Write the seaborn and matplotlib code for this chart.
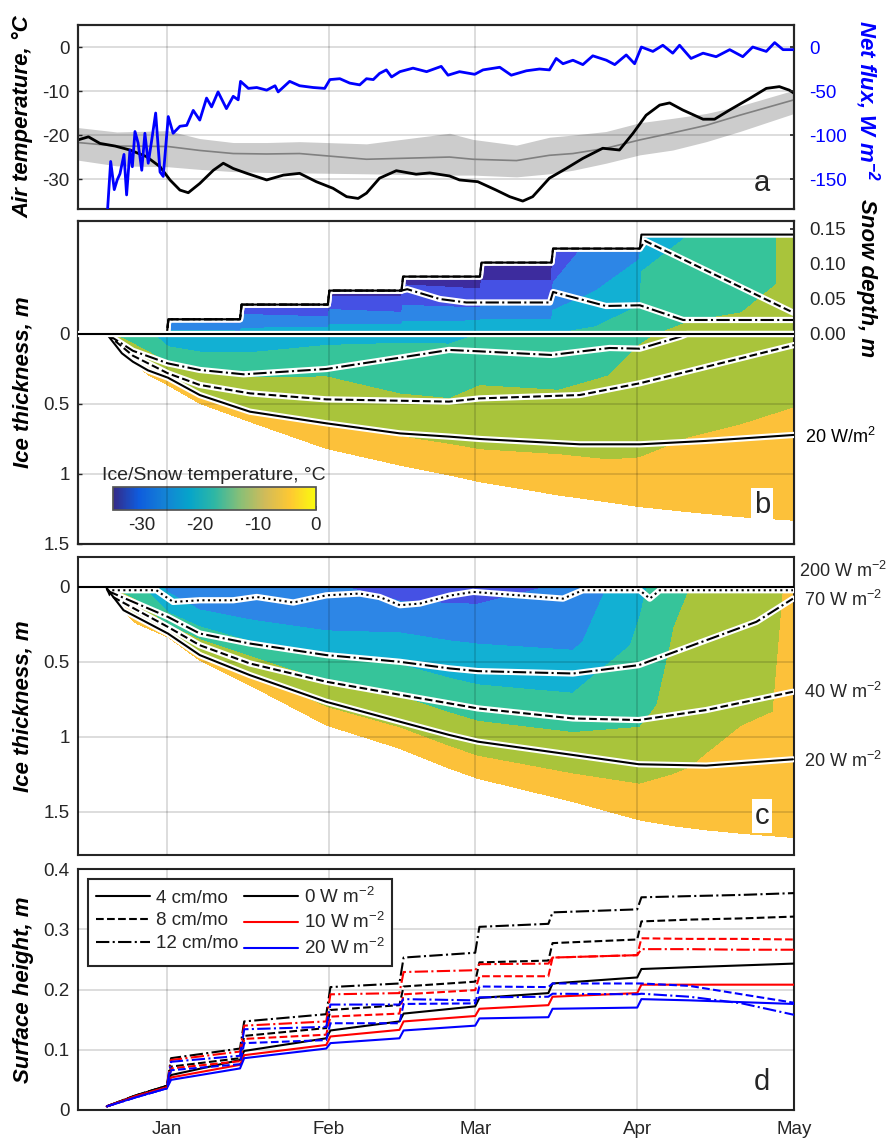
import numpy as np
import matplotlib
matplotlib.use("Agg")
import matplotlib.pyplot as plt
import seaborn as sns
from matplotlib.colors import LinearSegmentedColormap, Normalize
from matplotlib.cm import ScalarMappable
from matplotlib.lines import Line2D

sns.set_theme(style="white")
plt.rcParams["font.family"] = ["Liberation Sans", "DejaVu Sans"]
plt.rcParams["mathtext.fontset"] = "custom"
plt.rcParams["mathtext.rm"] = "Liberation Sans"
plt.rcParams["mathtext.it"] = "Liberation Sans:italic"
plt.rcParams["mathtext.bf"] = "Liberation Sans:italic:bold"
plt.rcParams["axes.unicode_minus"] = False

# ---------------- time axis (days since 1 Jan) ----------------
month_days = [0, 31, 59, 90, 120]
month_labels = ["Jan", "Feb", "Mar", "Apr", "May"]

# ---------------- panel a ----------------
air_days = [-17, -15, -12.8, -9.9, -7.06, -3.9, -1.3, 0.6, 2.5, 4.1, 6.3, 8.9, 10.8, 12.7, 15.3,
            19.1, 22.3, 25.4, 28.6, 31.8, 34.4, 36.6, 38.2, 40.7, 43.9, 47.7, 50.3, 54.1, 56, 59.5,
            63, 65.6, 68.1, 70, 73.2, 76.4, 79.6, 83.4, 86.6, 89.2, 91.7, 94.3, 96.2, 98.7, 102.6,
            104.8, 107.7, 111.5, 114.7, 117.2, 119.1, 120]
air_temp = [-21.1, -20.4, -21.9, -22.5, -23.4, -24.9, -27.2, -30.2, -32.5, -33.1, -31, -28, -26.4,
            -27.6, -28.7, -30.2, -29.1, -28.7, -30.6, -32.1, -34, -34.4, -33.2, -29.8, -28.1, -28.9,
            -28.6, -29.3, -30.2, -30.6, -32.5, -34, -35, -34, -29.8, -27.6, -25.3, -23, -23.4, -19.6,
            -15.5, -13.2, -12.7, -14.3, -16.4, -16.4, -14.3, -11.7, -9.4, -9, -9.8, -10.5]

clim_days = [-17, -9.6, 0.2, 6.3, 12.7, 19.1, 25.4, 38.2, 54.1, 58.6, 66.9, 73.2, 77.7, 84, 90.5,
             96.8, 103.2, 109.6, 120]
clim_mean = [-21.7, -22.5, -22.6, -23.5, -24.2, -24.3, -24.2, -25.5, -25.0, -25.5, -25.8, -24.6,
             -24.2, -23.0, -21.1, -19.5, -17.8, -15.5, -12.0]
clim_hi = [-18.3, -19.3, -19.0, -20.8, -21.7, -21.7, -21.5, -22.0, -19.6, -21.0, -22.3, -20.5,
           -20.0, -19.2, -17.2, -16.2, -15.1, -13.4, -9.8]
clim_lo = [-25.7, -27.0, -27.2, -27.8, -28.3, -28.5, -28.6, -28.8, -29.1, -29.1, -29.5, -28.8,
           -28.0, -26.4, -24.5, -23.4, -21.5, -19.2, -15.1]

flux_days = [-11.4, -10.75, -10.06, -9.5, -8.97, -8.2, -7.7, -7.06, -6.6, -6.1, -5.5, -4.8, -4.2,
             -3.56, -2.9, -2.14, -1.3, -0.69, 0.27, 1.2, 2.5, 3.8, 5.05, 6.3, 7.6, 8.56, 9.8, 11.4,
             12.7, 13.65, 14.1, 15.6, 17.2, 19.1, 20.7, 21.3, 23.5, 25.4, 28, 30.2, 31.2, 33.1, 35,
             36.9, 38.2, 39.5, 40.7, 42, 43, 44.6, 47.1, 49.7, 52.5, 53.8, 56, 58.9, 60.5, 63.7,
             65.9, 68.8, 71.3, 73.2, 74.5, 75.8, 77.7, 79.6, 81.5, 84.1, 85.7, 87.9, 89.5, 90.8, 93,
             94.9, 96.8, 98.1, 100.3, 102.6, 105.1, 107.7, 110.2, 112.1, 114.7, 116.3, 117.9, 119.8]
net_flux = [-190, -130, -162, -151, -144, -122, -168, -117, -136, -96, -109, -140, -98, -132, -106,
            -75, -142, -147, -79, -98, -90, -89, -72, -83, -58, -68, -51, -70, -56, -60, -39, -47,
            -46, -49, -44, -51, -39, -44, -46, -47, -37, -36, -41, -43, -36, -37, -30, -26, -34,
            -28, -24, -28, -22, -32, -28, -31, -26, -23, -32, -27, -25, -26, -13, -19, -15, -20,
            -10, -15, -20, -9, -19, 0, -5, 2, -7, 2, -13, -7, -11, -3, -11, 0, -5, 5, -3, -3]

# ---------------- panel b : ice (0 W m-2 run) ----------------
b_days = [-11, -8.2, -3.6, 0.2, 6.3, 15.9, 30.5, 44.6, 54.1, 59.9, 75, 84.5, 90.5, 100, 109.6, 120]
b_thick = [0.02, 0.15, 0.29, 0.364, 0.495, 0.626, 0.817, 0.936, 1.007, 1.055, 1.15, 1.2, 1.233,
           1.27, 1.305, 1.33]
b_T0 = [-10, -12, -14, -18, -17.5, -18, -17, -16, -16, -15, -15, -13, -10.5, -9, -8.5, -8]
b_T25 = [-8, -10, -11.5, -15, -15.2, -14.5, -12, -12.5, -12.5, -11, -11, -10, -8.5, -7.5, -7, -6]
b_T50 = [-6, -7, -9.5, -10.7, -10.3, -10, -8, -9.5, -9.5, -8.5, -8.5, -7.5, -7, -5.5, -5, -4.3]
b_T75 = [-4, -4.5, -5.8, -6.4, -7.5, -7.5, -5.5, -5.5, -5.5, -5.5, -5, -5, -4.7, -4, -3.5, -3]
b_Tbot = [-1.8] * 16

# snow layer of panel b
snow_days = [0, 0.3, 14, 14.3, 30.8, 31.1, 44.9, 45.2, 59.9, 60.2, 73.6, 73.9, 82, 90.5, 90.8,
             100, 110, 120]
snow_depth = [0.0, 0.021, 0.021, 0.042, 0.042, 0.062, 0.062, 0.082, 0.082, 0.102, 0.102, 0.122,
              0.122, 0.122, 0.142, 0.142, 0.142, 0.142]
snow_T_base = [-18, -18, -18, -18, -17, -17, -16, -16, -15, -15, -15, -15, -14, -11, -10.5, -9,
               -8.5, -8]
snow_T_mid = [-18, -22, -23, -23, -24, -24, -25, -25, -26, -27, -27, -24, -20, -17, -14, -13, -12,
              -9]
snow_T_top = [-18, -27, -28, -29, -30, -32, -32, -32, -33, -33, -33, -29, -23, -21, -18, -15, -14,
              -8]

# scenario lines of panel b (ice bottom and snow surface)
b20_days = [-11.5, -8.6, -6.5, -3.6, 0.2, 6.3, 15.9, 30.5, 44.6, 54, 59.9, 79, 90.5, 103, 120]
b20_ice = [0.0, 0.138, 0.198, 0.26, 0.312, 0.436, 0.555, 0.638, 0.71, 0.733, 0.75, 0.788, 0.788,
           0.764, 0.721]
b40_days = [-11.5, -6.5, 0.2, 6.3, 15.9, 30.5, 54, 59.9, 79, 90.5, 120]
b40_ice = [0.0, 0.155, 0.281, 0.364, 0.424, 0.467, 0.483, 0.46, 0.436, 0.352, 0.079]
b70_days = [-11.5, -6.5, 0.2, 6.3, 14.7, 30.5, 44.6, 54, 59.9, 73.6, 84.7, 90.5, 98.3, 99.5, 120]
b70_ice = [0.0, 0.12, 0.21, 0.257, 0.288, 0.25, 0.169, 0.114, 0.124, 0.15, 0.10, 0.105, 0.019,
           0.0, 0.0]

s20_days = [-11.5, 0, 0.3, 14, 14.3, 30.8, 31.1, 44.9, 45.2, 59.9, 60.2, 73.6, 73.9, 90.5, 90.8, 120]
s20_snow = [0, 0, 0.021, 0.021, 0.042, 0.042, 0.062, 0.062, 0.082, 0.082, 0.102, 0.102, 0.122,
            0.122, 0.142, 0.142]
s40_days = [-11.5, 0, 0.3, 14, 14.3, 30.8, 31.1, 44.9, 45.2, 59.9, 60.2, 73.6, 73.9, 90.5, 91.5, 120]
s40_snow = [0, 0, 0.021, 0.021, 0.042, 0.042, 0.062, 0.062, 0.082, 0.082, 0.102, 0.102, 0.122,
            0.122, 0.133, 0.030]
s70_days = [-11.5, 0, 0.3, 14, 14.3, 30.8, 31.1, 44.9, 46, 52.2, 57.3, 73.3, 73.9, 84, 90.5, 98.8, 120]
s70_snow = [0, 0, 0.021, 0.021, 0.042, 0.042, 0.062, 0.062, 0.064, 0.050, 0.045, 0.045, 0.060,
            0.040, 0.041, 0.020, 0.020]

# ---------------- panel c ----------------
c_days = [-10.5, -8.3, -5.8, 0.2, 6.3, 15.9, 30.5, 44.6, 54.1, 59.5, 77.7, 90.5, 97, 103.2, 110,
          116, 120]
c_thick = [0.06, 0.16, 0.244, 0.333, 0.489, 0.655, 0.922, 1.078, 1.211, 1.278, 1.433, 1.556, 1.595,
           1.622, 1.645, 1.662, 1.673]
c_T0 = [-11, -12, -13, -21, -23, -23, -24, -27, -27, -27, -24, -16, -11, -9, -8, -6, -4]
c_T25 = [-9, -10, -11, -18, -21, -21.5, -21.5, -20.7, -21, -21, -21, -14, -9.5, -8, -6.5, -5.5, -3.5]
c_T50 = [-7, -8, -8.5, -15, -16, -16.5, -15.3, -14.4, -15, -15.2, -14.8, -12, -8, -6.5, -5.5, -5, -3]
c_T75 = [-4.5, -5, -5.5, -10.3, -9, -8.6, -8, -8.1, -8.5, -8.7, -8, -7, -5.5, -4.5, -3.5, -3, -2.5]
c_Tbot = [-1.8] * 17

c20_days = [-11.5, -8.3, 0.2, 6.3, 15.9, 30.5, 44.6, 54.1, 59.5, 77.7, 90.3, 103.2, 119.8]
c20_ice = [0.01, 0.155, 0.311, 0.455, 0.589, 0.767, 0.9, 0.989, 1.033, 1.122, 1.184, 1.193, 1.151]
c40_days = [-11.5, -10.9, 0.2, 6.3, 15.9, 30.5, 44.6, 54.1, 59.5, 77.7, 90.3, 103.2, 119.8]
c40_ice = [0.01, 0.056, 0.267, 0.389, 0.511, 0.633, 0.72, 0.778, 0.811, 0.878, 0.889, 0.822, 0.7]
c70_days = [-11.5, -10.9, 0.2, 6.3, 15.9, 30.5, 44.6, 54.1, 59.5, 77.7, 90.3, 103.2, 112.8, 119.8]
c70_ice = [0.01, 0.033, 0.2, 0.311, 0.378, 0.455, 0.5, 0.544, 0.562, 0.578, 0.522, 0.356, 0.233,
           0.078]
c200_days = [-11.5, -2.0, 1.2, 6.3, 12.7, 17.2, 24.2, 30.5, 36.9, 40.7, 44.6, 48.4, 54.1, 58.6,
             68.1, 75.8, 79.6, 90.5, 92.4, 94.3, 119.8]
c200_ice = [0.022, 0.022, 0.1, 0.089, 0.089, 0.067, 0.104, 0.056, 0.044, 0.067, 0.122, 0.111, 0.058,
            0.033, 0.058, 0.078, 0.022, 0.022, 0.078, 0.022, 0.022]

# ---------------- panel d ----------------
d_days = [-11.5, -6, 0, 0.8, 14, 14.8, 30.5, 31.3, 44.5, 45.3, 59, 59.8, 73, 73.8, 90, 90.8, 100,
          110, 120]
h4_0 = [0.006, 0.024, 0.040, 0.058, 0.083, 0.098, 0.119, 0.132, 0.147, 0.160, 0.172, 0.186, 0.194,
        0.210, 0.220, 0.234, 0.237, 0.240, 0.243]
h4_10 = [0.006, 0.023, 0.038, 0.054, 0.075, 0.091, 0.108, 0.122, 0.133, 0.147, 0.156, 0.168, 0.174,
         0.188, 0.194, 0.208, 0.208, 0.208, 0.208]
h4_20 = [0.006, 0.021, 0.036, 0.050, 0.069, 0.086, 0.102, 0.111, 0.119, 0.132, 0.140, 0.152, 0.154,
         0.168, 0.170, 0.184, 0.182, 0.179, 0.176]
h8_0 = [0.006, 0.024, 0.040, 0.072, 0.086, 0.123, 0.136, 0.166, 0.174, 0.205, 0.213, 0.245, 0.248,
        0.277, 0.283, 0.313, 0.316, 0.318, 0.321]
h8_10 = [0.006, 0.023, 0.038, 0.069, 0.081, 0.118, 0.125, 0.155, 0.160, 0.192, 0.199, 0.222, 0.222,
         0.253, 0.257, 0.285, 0.284, 0.284, 0.283]
h8_20 = [0.006, 0.021, 0.036, 0.066, 0.076, 0.111, 0.116, 0.144, 0.144, 0.176, 0.177, 0.205, 0.204,
         0.210, 0.210, 0.210, 0.206, 0.192, 0.178]
h12_0 = [0.006, 0.024, 0.040, 0.086, 0.102, 0.147, 0.159, 0.204, 0.210, 0.253, 0.261, 0.304, 0.309,
         0.328, 0.333, 0.353, 0.355, 0.357, 0.360]
h12_10 = [0.006, 0.023, 0.038, 0.083, 0.097, 0.140, 0.147, 0.192, 0.194, 0.229, 0.232, 0.242, 0.243,
          0.253, 0.257, 0.267, 0.267, 0.266, 0.266]
h12_20 = [0.006, 0.021, 0.036, 0.080, 0.090, 0.134, 0.138, 0.175, 0.175, 0.184, 0.182, 0.187, 0.188,
          0.193, 0.192, 0.193, 0.188, 0.177, 0.158]

# ---------------- styling ----------------
temp_levels = [-35, -30, -25, -20, -15, -10, -5, 0]
band_colors = ["#3d2c9e", "#4551e4", "#2d86e6", "#12b0d3", "#36c49a", "#a9c43b", "#fcc13a"]
parula = LinearSegmentedColormap.from_list(
    "parula", ["#352a87", "#0f5cdd", "#1481d6", "#06a4ca", "#2eb7a4", "#87bf77", "#d1bb59",
               "#fec832", "#f9fb0e"])
DARK = "#262626"
W, H = 887, 1142
TICK_FS = 13.5
LAB_FS = 16

fig = plt.figure(figsize=(W / 100, H / 100), dpi=100, facecolor="white")
L, WD = 78 / W, 716 / W


def add_ax(top, bottom):
    return fig.add_axes([L, 1 - bottom / H, WD, (bottom - top) / H])


def style(ax, grid=True):
    for s in ax.spines.values():
        s.set_color(DARK)
        s.set_linewidth(1.5)
    ax.tick_params(direction="in", length=3, width=1, colors=DARK, labelsize=TICK_FS)
    ax.tick_params(axis="y", pad=6)
    ax.set_xlim(-17, 120)
    ax.set_xticks(month_days)
    if grid:
        ax.grid(True, color="black", alpha=0.15, linewidth=1.3)
        ax.set_axisbelow(False)


def style_right(ax, labelcolor=DARK):
    for s in ax.spines.values():
        s.set_color(DARK)
        s.set_linewidth(1.5)
    ax.tick_params(direction="in", length=3, colors=DARK, labelcolor=labelcolor,
                   labelsize=TICK_FS, pad=11)
    ax.set_xlim(-17, 120)
    ax.set_ylabel("")


def sline(ax, x, y, color="black", ls="-", lw=1.5, z=3, outline=False):
    if outline:
        sns.lineplot(x=x, y=y, ax=ax, color="white", linewidth=lw + 3, estimator=None, sort=False,
                     zorder=z, legend=False)
    sns.lineplot(x=x, y=y, ax=ax, color=color, linewidth=lw, linestyle=ls, estimator=None,
                 sort=False, zorder=z + 0.1, legend=False)


bold_it = dict(fontsize=LAB_FS, fontweight="bold", fontstyle="italic", color="black")
LABX = -0.062

# ======== panel a ========
ax_a = add_ax(25, 209)
style(ax_a)
ax_a.fill_between(clim_days, clim_lo, clim_hi, color="#cccccc", lw=0, zorder=1)
sline(ax_a, clim_days, clim_mean, color="#808080", lw=1.2)
sline(ax_a, air_days, air_temp, color="black", lw=2.0)
ax_a.set_ylim(-36.8, 5)
ax_a.set_yticks([0, -10, -20, -30])
ax_a.set_yticklabels(["0", "-10", "-20", "-30"])
ax_a.tick_params(labelbottom=False)
ax_a.set_ylabel("Air temperature, °C", **bold_it)
ax_a.yaxis.set_label_coords(LABX, 0.5)
ax_a2 = ax_a.twinx()
sline(ax_a2, flux_days, net_flux, color="#0000ff", lw=2.0)
ax_a2.set_ylim(-184, 25)
ax_a2.set_yticks([0, -50, -100, -150])
ax_a2.set_yticklabels(["0", "-50", "-100", "-150"])
style_right(ax_a2, labelcolor="#0000ff")
ax_a.text(0.955, 0.143, "a", transform=ax_a.transAxes, fontsize=21, ha="center", va="center")

# ======== panel b ========
ax_b = add_ax(221, 544)
ax_b2 = ax_b.twinx()
ax_b.set_zorder(ax_b2.get_zorder() + 1)
ax_b.patch.set_visible(False)
style(ax_b)
fr5 = np.array([0, 0.25, 0.5, 0.75, 1.0])[:, None]
Xb = np.tile(np.asarray(b_days, float), (5, 1))
Yb = fr5 * np.asarray(b_thick)[None, :]
Zb = np.vstack([b_T0, b_T25, b_T50, b_T75, b_Tbot])
ax_b.contourf(Xb, Yb, Zb, levels=temp_levels, colors=band_colors, zorder=1)
sline(ax_b, [-17, 120], [0, 0], lw=1.5, outline=True, z=4)
sline(ax_b, b20_days, b20_ice, ls="-", outline=True)
sline(ax_b, b40_days, b40_ice, ls="--", outline=True)
sline(ax_b, b70_days, b70_ice, ls="-.", outline=True)
ax_b.set_ylim(1.5, -0.807)
ax_b.set_yticks([0, 0.5, 1, 1.5])
ax_b.set_yticklabels(["0", "0.5", "1", "1.5"])
ax_b.tick_params(labelbottom=False)
ax_b.set_ylabel("Ice thickness, m", **bold_it)
ax_b.yaxis.set_label_coords(LABX, 0.5)

fr3 = np.array([0, 0.5, 1.0])[:, None]
Xs = np.tile(np.asarray(snow_days, float), (3, 1))
Ys = fr3 * np.asarray(snow_depth)[None, :]
Zs = np.vstack([snow_T_base, snow_T_mid, snow_T_top])
ax_b2.contourf(Xs, Ys, Zs, levels=temp_levels, colors=band_colors, zorder=1)
sline(ax_b2, s20_days, s20_snow, ls="-", outline=True)
sline(ax_b2, s40_days, s40_snow, ls="--", outline=True)
sline(ax_b2, s70_days, s70_snow, ls="-.", outline=True)
ax_b2.set_ylim(-0.3, 0.1614)
ax_b2.set_yticks([0, 0.05, 0.10, 0.15])
ax_b2.set_yticklabels(["0.00", "0.05", "0.10", "0.15"])
style_right(ax_b2)
ax_b.text(0.955, 0.12, "b", transform=ax_b.transAxes, fontsize=21, ha="center", va="center",
          zorder=6, bbox=dict(facecolor="white", edgecolor="none", pad=2))

cax = fig.add_axes([113 / W, 1 - 510 / H, 203 / W, 23 / H])
cb = fig.colorbar(ScalarMappable(norm=Normalize(-35, 0), cmap=parula), cax=cax,
                  orientation="horizontal", ticks=[-30, -20, -10, 0])
cb.ax.set_xticklabels(["-30", "-20", "-10", "0"])
cb.ax.tick_params(direction="in", length=3, colors=DARK, labelsize=TICK_FS, pad=5)
cb.outline.set_edgecolor("#555555")
fig.text(214 / W, 1 - 476 / H, "Ice/Snow temperature, °C", fontsize=14, ha="center",
         va="center", color=DARK)

# ======== panel c ========
ax_c = add_ax(557, 855)
style(ax_c)
Xc = np.tile(np.asarray(c_days, float), (5, 1))
Yc = 0.01 + fr5 * (np.asarray(c_thick)[None, :] - 0.01)
Zc = np.vstack([c_T0, c_T25, c_T50, c_T75, c_Tbot])
ax_c.contourf(Xc, Yc, Zc, levels=temp_levels, colors=band_colors, zorder=1)
sline(ax_c, [-17, 120], [0, 0], lw=1.5, z=4)
sline(ax_c, c20_days, c20_ice, ls="-", outline=True)
sline(ax_c, c40_days, c40_ice, ls="--", outline=True)
sline(ax_c, c70_days, c70_ice, ls="-.", outline=True)
sline(ax_c, c200_days, c200_ice, ls=":", outline=True)
ax_c.set_ylim(1.79, -0.2)
ax_c.set_yticks([0, 0.5, 1, 1.5])
ax_c.set_yticklabels(["0", "0.5", "1", "1.5"])
ax_c.tick_params(labelbottom=False)
ax_c.set_ylabel("Ice thickness, m", **bold_it)
ax_c.yaxis.set_label_coords(LABX, 0.5)
ax_c.text(0.955, 0.132, "c", transform=ax_c.transAxes, fontsize=21, ha="center", va="center",
          zorder=6, bbox=dict(facecolor="white", edgecolor="none", pad=2))

# ======== panel d ========
ax_d = add_ax(869, 1110)
style(ax_d)
for vals, col, ls in [(h4_0, "black", "-"), (h4_10, "#ff0000", "-"), (h4_20, "#0000ff", "-"),
                      (h8_0, "black", "--"), (h8_10, "#ff0000", "--"), (h8_20, "#0000ff", "--"),
                      (h12_0, "black", "-."), (h12_10, "#ff0000", "-."), (h12_20, "#0000ff", "-.")]:
    sline(ax_d, d_days, vals, color=col, ls=ls, lw=1.5)
ax_d.set_ylim(0, 0.4)
ax_d.set_yticks([0, 0.1, 0.2, 0.3, 0.4])
ax_d.set_yticklabels(["0", "0.1", "0.2", "0.3", "0.4"])
ax_d.set_xticklabels(month_labels)
ax_d.tick_params(axis="x", pad=8)
ax_d.set_ylabel("Surface height, m", **bold_it)
ax_d.yaxis.set_label_coords(LABX, 0.5)
ax_d.text(0.955, 0.117, "d", transform=ax_d.transAxes, fontsize=21, ha="center", va="center")
handles = [Line2D([], [], color="black", ls="-", lw=1.5), Line2D([], [], color="black", ls="--", lw=1.5),
           Line2D([], [], color="black", ls="-.", lw=1.5), Line2D([], [], color="black", lw=1.5),
           Line2D([], [], color="#ff0000", lw=1.5), Line2D([], [], color="#0000ff", lw=1.5)]
labels = ["4 cm/mo", "8 cm/mo", "12 cm/mo", r"0 W m$^{-2}$", r"10 W m$^{-2}$", r"20 W m$^{-2}$"]
leg = ax_d.legend(handles, labels, ncol=2, loc="upper left", bbox_to_anchor=(0.014, 0.958),
                  borderaxespad=0, fontsize=13.5, handlelength=2.9, columnspacing=0.3,
                  handletextpad=0.3, labelspacing=0.3, frameon=True, fancybox=False,
                  edgecolor=DARK, framealpha=1, borderpad=0.4)
leg.get_frame().set_linewidth(1.5)

# ======== right-side annotations ========
fig.text(867 / W, 1 - 100 / H, r"Net flux, W m$^{\mathbf{-2}}$", rotation=270, ha="center",
         va="center", fontsize=LAB_FS, fontweight="bold", fontstyle="italic", color="#0000ff")
fig.text(867 / W, 1 - 278 / H, "Snow depth, m", rotation=270, ha="center", va="center",
         fontsize=LAB_FS, fontweight="bold", fontstyle="italic", color="black")
fig.text(805 / W, 1 - 437 / H, r"20 W/m$^2$", fontsize=13, ha="left", va="center", color="black")
fig.text(799 / W, 1 - 571 / H, r"200 W m$^{-2}$", fontsize=13, ha="left", va="center")
fig.text(804 / W, 1 - 600 / H, r"70 W m$^{-2}$", fontsize=13, ha="left", va="center")
fig.text(804 / W, 1 - 692 / H, r"40 W m$^{-2}$", fontsize=13, ha="left", va="center")
fig.text(804 / W, 1 - 761 / H, r"20 W m$^{-2}$", fontsize=13, ha="left", va="center")

fig.savefig("out.png", dpi=100, facecolor="white")
